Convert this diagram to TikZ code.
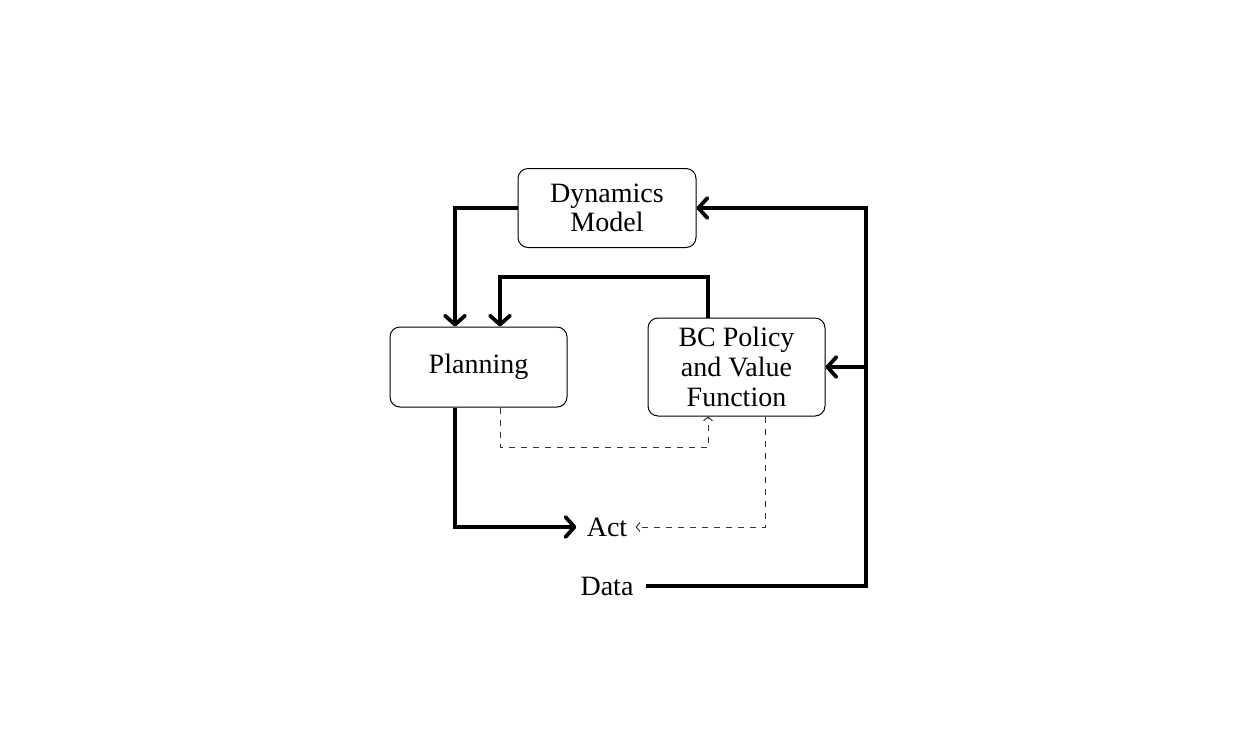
\documentclass[tikz,border=0pt]{standalone}
\usepackage{fontspec}
\setmainfont{Liberation Serif}
\usetikzlibrary{arrows.meta}
\begin{document}
\begin{tikzpicture}[x=0.5pt,y=-0.5pt,
  box/.style={draw, line width=0.5pt, rounded corners=5pt, align=center, inner sep=0pt,
    font=\fontsize{14pt}{14.8pt}\selectfont},
  lbl/.style={inner sep=0pt, font=\fontsize{14pt}{14.8pt}\selectfont},
  thickline/.style={line width=1.9pt, -{Straight Barb[length=4.5pt,width=10pt,line cap=round,line join=round]}},
  dashline/.style={dashed, line width=0.5pt, black!80, -{Straight Barb[length=1.8pt,width=4.5pt]}}]
\useasboundingbox (0,0) rectangle (1259,751);
\node[box, minimum width=89pt, minimum height=39.5pt] (dyn) at (607,208) {Dynamics\\Model};
\node[box, minimum width=88.5pt, minimum height=40pt] (plan) at (478.5,367) {Planning};
\node[box, minimum width=88.5pt, minimum height=49pt] (bc) at (736.5,367) {BC Policy\\and Value\\Function};
\node[lbl] (act) at (607,527) {Act};
\node[lbl] (data) at (607,586) {Data};
% Dynamics -> Planning
\draw[thickline] (dyn.west) -| (plan.north -| 455,0);
% BC -> Planning
\draw[thickline] (bc.north -| 708,0) |- (600,277) -| (plan.north -| 500,0);
% Planning -> Act
\draw[thickline] (plan.south -| 455,0) |- ([xshift=-5pt]act.west);
% Data -> Dynamics, BC
\draw[thickline] ([xshift=6pt]data.east) -| (866,367) |- (dyn.east);
\draw[thickline] (866,367) -- (bc.east);
% dashed
\draw[dashline] (plan.south -| 500,0) |- (708,447) -- (bc.south -| 708,0);
\draw[dashline] (bc.south -| 765,0) |- ([xshift=4pt]act.east);
\end{tikzpicture}
\end{document}
